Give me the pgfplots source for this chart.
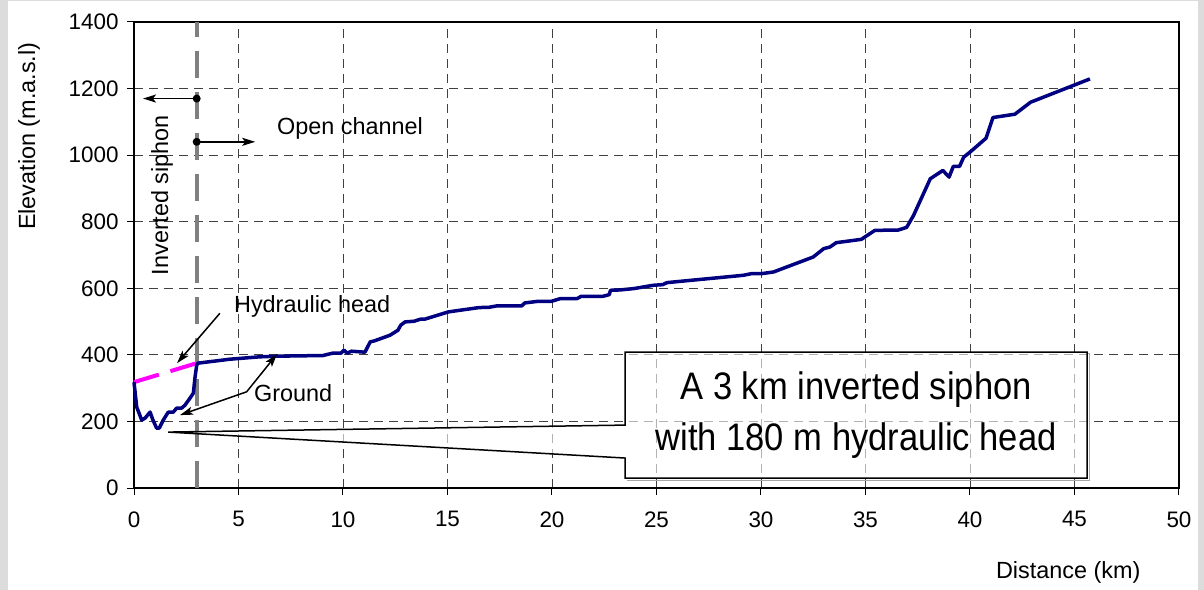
\documentclass[border=0pt]{standalone}
\usepackage{fontspec}
\setmainfont{Liberation Sans}
\newfontfamily\narrow[FakeStretch=0.9]{Liberation Sans}
\usepackage{pgfplots}
\pgfplotsset{compat=1.18}
\usetikzlibrary{arrows.meta}
\definecolor{framegray}{RGB}{220,220,220}
\definecolor{ground}{RGB}{0,0,128}
\definecolor{headpink}{RGB}{255,0,255}
\definecolor{siphongray}{RGB}{128,128,128}

\begin{document}
\begin{tikzpicture}
\useasboundingbox (0,0) rectangle (1204bp,590bp);
\fill[framegray] (0,0) rectangle (1204bp,590bp);
\fill[white] (8bp,0) rectangle (1198bp,589bp);

\begin{axis}[
    at={(134bp,102bp)}, anchor=south west,
    scale only axis,
    width=1045bp, height=466bp,
    xmin=0, xmax=50, ymin=0, ymax=1400,
    xtick={0,5,...,50},
    ytick={0,200,...,1400},
    grid=major,
    grid style={black!75, line width=0.9bp, dash pattern=on 9bp off 6bp},
    axis line style={line width=1.5bp},
    tick style={black, line width=1bp},
    tick align=outside,
    major tick length=7bp,
    xtick pos=bottom, ytick pos=left,
    /pgf/number format/assume math mode=true,
    /pgf/number format/1000 sep={},
    ticklabel style={font=\fontsize{22.5}{26}\selectfont},
    xticklabel style={yshift=-13bp},
    yticklabel style={xshift=-5bp},
    xlabel={Distance (km)},
    ylabel={Elevation (m.a.s.l)},
    label style={font=\fontsize{23.5}{27}\selectfont},
    xlabel style={at={(axis description cs:0.894,-0.182)}, anchor=center},
    ylabel style={at={(axis description cs:-0.1005,0.755)}, anchor=center},
    clip=false,
]
% boundary between siphon and open channel
\addplot[siphongray, line width=4bp, dash pattern=on 27bp off 14bp]
    coordinates {(3,0) (3,1400)};
% hydraulic head over the siphon
\addplot[headpink, line width=4bp, dash pattern=on 26bp off 12bp]
    coordinates {(0,318) (3,375)};
% ground profile
\addplot[ground, line width=3.5bp, line join=round] coordinates {
(0,318)(0.13,243)(0.37,204)(0.53,210)(0.77,228)(0.89,207)(1.08,180)(1.21,180)
(1.4,204)(1.64,228)(1.88,228)(2.04,240)(2.28,240)(2.44,249)(2.68,270)(2.84,285)
(2.92,333)(3.0,369)(3.05,375)(4.6,387)(6.0,394)(6.84,396)(9.04,398)(9.5,405)
(9.9,405)(10.05,414)(10.2,405)(10.4,411)(11.05,408)(11.3,439)(11.5,442)
(12.25,459)(12.63,474)(12.76,489)(12.97,499)(13.4,501)(13.7,507)(13.9,507)
(15.04,529)(16.5,542)(17.0,543)(17.35,547)(18.55,547)(18.7,556)(19.35,561)
(19.98,561)(20.4,569)(21.2,569)(21.4,576)(22.45,576)(22.74,581)(22.8,594)
(23.25,595)(23.9,599)(24.85,609)(25.3,611)(25.5,617)(29.15,639)(29.55,644)
(30.03,644)(30.6,649)(32.5,694)(33.0,719)(33.3,724)(33.6,737)(34.8,747)
(35.45,774)(36.57,775)(36.97,783)(37.3,819)(38.1,929)(38.7,954)(39.0,934)
(39.2,966)(39.5,966)(39.7,994)(40.0,1009)(40.77,1051)(41.1,1113)(42.15,1123)
(42.9,1159)(45.74,1229)
};

% callout
\draw[black!35, line width=1bp]
    (axis cs:45.6,405) -- ++(2bp,0) |- ([xshift=2bp,yshift=-2bp]axis cs:23.5,30);
\filldraw[fill=white, fill opacity=0.6, draw=black, line width=1.5bp]
    (axis cs:23.5,408) -- (axis cs:45.6,408) -- (axis cs:45.6,30) -- (axis cs:23.5,30)
    -- (axis cs:23.5,90) -- (axis cs:1.63,168) -- (axis cs:23.5,189) -- cycle;
\node[align=center, font=\narrow\fontsize{38.5}{52}\selectfont]
    at (axis cs:34.55,219) {A 3 km inverted siphon\\with 180 m hydraulic head};

% labels
\node[rotate=90, font=\fontsize{23.5}{27}\selectfont] at (axis cs:1.34,880) {Inverted siphon};
\node[anchor=west, inner sep=0pt, font=\fontsize{23.5}{27}\selectfont] at (axis cs:6.84,1081) {Open channel};
\node[anchor=west, inner sep=0pt, font=\fontsize{23.5}{27}\selectfont] at (axis cs:4.78,546) {Hydraulic head};
\node[anchor=west, inner sep=0pt, font=\fontsize{23.5}{27}\selectfont] at (axis cs:5.74,285) {Ground};

% arrows
\draw[-{Stealth[length=13bp,width=8bp,inset=3bp]}, line width=1.5bp]
    (axis cs:4.11,525) -- (axis cs:2.06,375);
\draw[-{Stealth[length=13bp,width=8bp,inset=3bp]}, line width=1.5bp]
    (axis cs:5.39,289) -- (axis cs:6.84,402);
\draw[-{Stealth[length=13bp,width=8bp,inset=3bp]}, line width=1.5bp]
    (axis cs:5.39,289) -- (axis cs:2.2,219);
\draw[-{Stealth[length=13bp,width=8bp,inset=3bp]}, line width=1.8bp]
    (axis cs:3,1170) -- (axis cs:0.43,1170);
\draw[-{Stealth[length=13bp,width=8bp,inset=3bp]}, line width=1.8bp]
    (axis cs:3,1040) -- (axis cs:5.8,1040);
\fill (axis cs:3,1170) circle[radius=4bp];
\fill (axis cs:3,1040) circle[radius=4bp];
\end{axis}
\end{tikzpicture}
\end{document}
